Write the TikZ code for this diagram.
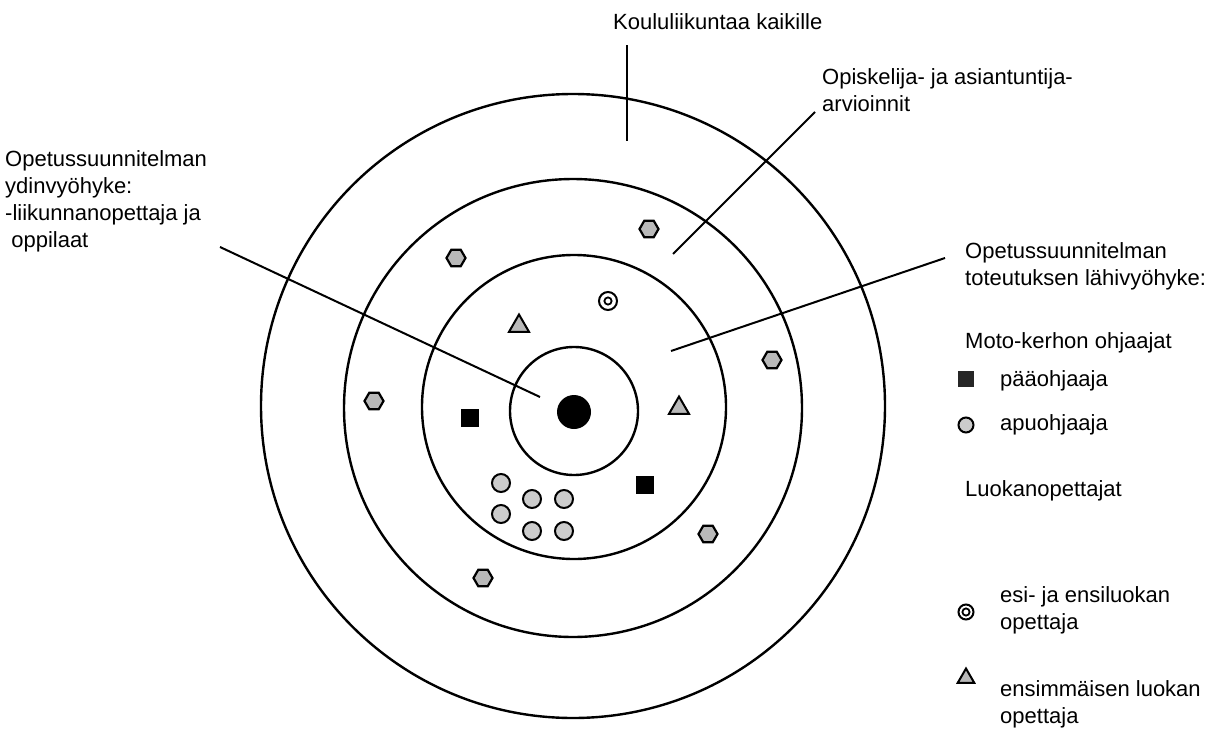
\documentclass[tikz,border=0pt]{standalone}
\usepackage{fontspec}
\setmainfont{Liberation Sans}
\usetikzlibrary{shapes.geometric}
\begin{document}
\begin{tikzpicture}[x=1pt,y=-1pt,
  ringc/.style={circle, draw, line width=2.4pt, inner sep=0pt},
  lead/.style={line width=2pt},
  lbl/.style={font=\fontsize{22}{27}\selectfont, align=left, inner sep=0pt, anchor=west},
  hexm/.style={regular polygon, regular polygon sides=6, minimum size=19pt, draw, line width=2.2pt, fill=gray!55, inner sep=0pt},
  trim/.style={regular polygon, regular polygon sides=3, minimum size=23pt, draw, line width=2pt, fill=gray!55, inner sep=0pt},
  sqm/.style={rectangle, minimum size=18pt, fill=black, inner sep=0pt},
  cirm/.style={circle, minimum size=18pt, draw, line width=2pt, fill=gray!40, inner sep=0pt},
  dblm/.style={circle, minimum size=18pt, draw, line width=2pt, fill=white, inner sep=0pt,
    path picture={\draw[line width=1.8pt] (path picture bounding box.center) circle (3.6pt);}}
]
\useasboundingbox (0,0) rectangle (1205,731);
% rings
\node[ringc, minimum size=624pt] (outer) at (573,406) {};
\node[ringc, minimum size=458pt] (second) at (573,408) {};
\node[ringc, minimum size=304pt] (third) at (574,407) {};
\node[ringc, minimum size=128pt] (inner) at (574,411) {};
\node[circle, fill=black, minimum size=34pt, inner sep=0pt] (core) at (574,412) {};

% labels
\node[lbl] (kk) at (613,22) {Koululiikuntaa kaikille};
\node[lbl] (oa) at (822,90) {Opiskelija- ja asiantuntija-\\arvioinnit};
\node[lbl] (yd) at (5,201) {Opetussuunnitelman\\ydinvyöhyke:\\-liikunnanopettaja ja\\\ oppilaat};
\node[lbl] (tl) at (965,266) {Opetussuunnitelman\\toteutuksen lähivyöhyke:};
\node[lbl] (mk) at (965,343) {Moto-kerhon ohjaajat};
\node[lbl] (lp1) at (1000,381) {pääohjaaja};
\node[lbl] (lp2) at (1000,425) {apuohjaaja};
\node[lbl] (lo) at (965,491) {Luokanopettajat};
\node[lbl] (lp3) at (1000,610) {esi- ja ensiluokan\\opettaja};
\node[lbl] (lp4) at (1000,704) {ensimmäisen luokan\\opettaja};

% leader lines
\coordinate (kkA) at (627,45);  \coordinate (kkB) at (627,141);
\coordinate (oaA) at (815,112); \coordinate (oaB) at (673,254);
\coordinate (ydA) at (220,247); \coordinate (ydB) at (540,397);
\coordinate (tlA) at (945,258); \coordinate (tlB) at (671,351);
\draw[lead] (kkA) -- (kkB);
\draw[lead] (oaA) -- (oaB);
\draw[lead] (ydA) -- (ydB);
\draw[lead] (tlA) -- (tlB);

% markers in the rings
\node[hexm] (h1) at (649,229) {};
\node[hexm] (h2) at (456,258) {};
\node[hexm] (h3) at (374,401) {};
\node[hexm] (h4) at (772,360) {};
\node[hexm] (h5) at (708,534) {};
\node[hexm] (h6) at (483,578) {};
\node[dblm] (d1) at (608,301) {};
\node[trim] (t1) at (519,326) {};
\node[trim] (t2) at (679,408) {};
\node[sqm] (s1) at (470,418) {};
\node[sqm] (s2) at (645,485) {};
\node[cirm] (c1) at (501,483) {};
\node[cirm] (c2) at (501,514) {};
\node[cirm] (c3) at (532,499) {};
\node[cirm] (c4) at (564,499) {};
\node[cirm] (c5) at (532,531) {};
\node[cirm] (c6) at (564,531) {};

% legend markers
\node[sqm, minimum size=16pt, fill=black!85] (ls) at (966,379) {};
\node[cirm, minimum size=15pt] (lc) at (966,425) {};
\node[dblm, minimum size=15pt] (ld) at (966,612) {};
\node[trim, minimum size=19pt] (lt) at (966,678) {};
\end{tikzpicture}
\end{document}
